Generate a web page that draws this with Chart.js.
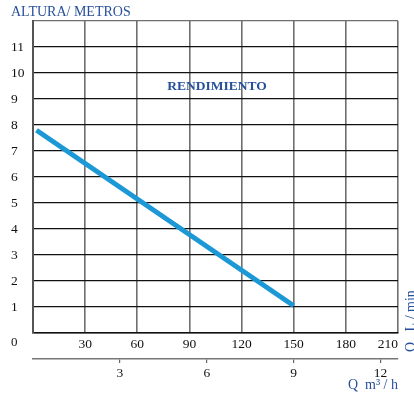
<!DOCTYPE html>
<html>
<head>
<meta charset="utf-8">
<script src="https://cdn.jsdelivr.net/npm/chart.js@4"></script>
<style>
  body { margin: 0; background: #fff; }
  canvas { display: block; }
</style>
</head>
<body>
<canvas id="curve" width="414" height="394"></canvas>
<script>
// tick labels
const flowTicks = [0, 30, 60, 90, 120, 150, 180, 210];   // Q l/min
const flowM3hTicks = [3, 6, 9, 12];                       // Q m3/h
const heightTicks = [0, 1, 2, 3, 4, 5, 6, 7, 8, 9, 10, 11, 12];

// pump curve
const curveFlow = [2, 150];
const curveHeight = [7.8, 1.05];

const blue = '#27509b';
const serif = 'Liberation Serif';

const textPlugin = {
    id: 'texts',
    afterDraw(chart) {
        const c = chart.ctx;
        c.save();
        c.fillStyle = blue;
        c.font = '14px ' + serif;
        c.textBaseline = 'middle';
        c.textAlign = 'left';
        c.fillText('ALTURA/ METROS', 11, 12);

        c.font = 'bold 13.5px ' + serif;
        c.textAlign = 'center';
        c.fillText('RENDIMIENTO', 217, 87);

        c.fillStyle = '#111';
        c.font = '13px ' + serif;
        c.textAlign = 'left';
        c.fillText('0', 11, 343);

        c.fillStyle = blue;
        c.font = '14px ' + serif;
        c.translate(411, 352);
        c.rotate(-Math.PI / 2);
        c.fillText('Q   L / min', 0, 0);
        c.restore();
    }
};

function fixTicks(list) {
    return scale => { scale.ticks = list.map(v => ({ value: v })); };
}

new Chart(document.getElementById('curve'), {
    type: 'line',
    data: {
        datasets: [{
            data: curveFlow.map((q, i) => ({ x: q, y: curveHeight[i] })),
            borderColor: '#1b98d5',
            borderWidth: 5,
            pointRadius: 0,
            xAxisID: 'x',
            yAxisID: 'y'
        }]
    },
    options: {
        responsive: false,
        animation: false,
        layout: { padding: { left: 11, top: 21, right: 16, bottom: 0 } },
        plugins: { legend: { display: false }, tooltip: { enabled: false } },
        scales: {
            x: {
                type: 'linear', position: 'bottom', min: 0, max: 210,
                afterBuildTicks: fixTicks(flowTicks),
                afterFit: s => { s.height = 26; },
                grid: { color: '#6f6f6f', lineWidth: 1.6, drawTicks: false },
                border: { color: '#111', width: 1.6 },
                ticks: {
                    align: 'inner', padding: 3, color: '#111',
                    font: { family: serif, size: 13.5 },
                    callback: v => v === 0 ? '' : v
                }
            },
            x2: {
                type: 'linear', position: 'bottom', min: 0, max: 12.6,
                afterBuildTicks: fixTicks(flowM3hTicks),
                afterFit: s => { s.height = 35; },
                grid: { drawOnChartArea: false, drawTicks: true, tickLength: 4, color: '#666', lineWidth: 1.2 },
                border: { color: '#777', width: 1.5 },
                ticks: { padding: 2, color: '#111', font: { family: serif, size: 13.5 } },
                title: {
                    display: true, text: 'Q  m³ / h', align: 'end', color: blue,
                    font: { family: serif, size: 14 }, padding: { top: -3, bottom: 0 }
                }
            },
            y: {
                type: 'linear', min: 0, max: 12,
                afterBuildTicks: fixTicks(heightTicks),
                afterFit: s => { s.width = 22; },
                grid: {
                    color: c => c.tick && c.tick.value === 12 ? '#6f6f6f' : '#111',
                    lineWidth: 1.3, drawTicks: false
                },
                border: { color: '#555', width: 2 },
                ticks: {
                    crossAlign: 'far', padding: 0, color: '#111',
                    font: { family: serif, size: 13.5 },
                    callback: v => (v === 0 || v === 12) ? '' : v
                }
            }
        }
    },
    plugins: [textPlugin]
});
</script>
</body>
</html>
